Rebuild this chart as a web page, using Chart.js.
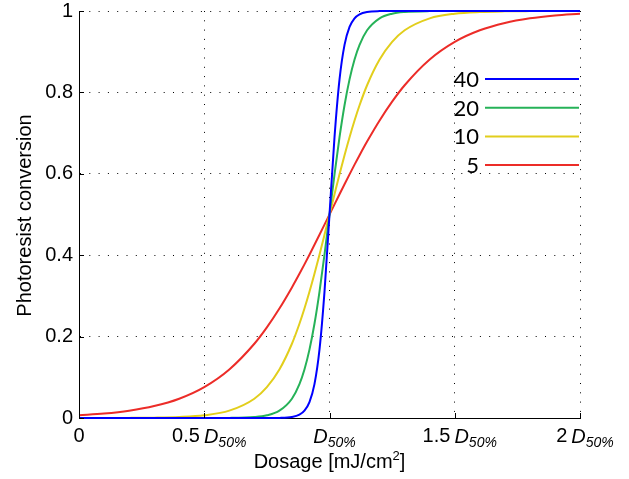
<!DOCTYPE html>
<html>
<head>
<meta charset="utf-8">
<script src="https://cdn.jsdelivr.net/npm/chart.js@4.4.1/dist/chart.umd.min.js"></script>
<style>
  html, body { margin: 0; padding: 0; background: #fff; }
  #wrap { width: 629px; height: 479px; }
</style>
</head>
<body>
<div id="wrap"><canvas id="chart" width="629" height="479"></canvas></div>
<script>
// Dosis in Einheiten von D50%
const dose = [0, 0.1, 0.2, 0.3, 0.4, 0.5, 0.6, 0.7, 0.75, 0.8, 0.85, 0.88, 0.9, 0.92, 0.94, 0.96, 0.98,
  1.0, 1.02, 1.04, 1.06, 1.08, 1.1, 1.12, 1.15, 1.2, 1.25, 1.3, 1.4, 1.5, 1.6, 1.7, 1.8, 1.9, 2.0];

const conv5 = [0.0067, 0.0110, 0.0180, 0.0293, 0.0474, 0.0759, 0.1192, 0.1824, 0.2227, 0.2689, 0.3208, 0.3543,
  0.3775, 0.4013, 0.4256, 0.4502, 0.4750, 0.5000, 0.5250, 0.5498, 0.5744, 0.5987, 0.6225, 0.6457, 0.6792,
  0.7311, 0.7773, 0.8176, 0.8808, 0.9241, 0.9526, 0.9707, 0.9820, 0.9890, 0.9933];
const conv10 = [0.0000, 0.0001, 0.0003, 0.0009, 0.0025, 0.0067, 0.0180, 0.0474, 0.0759, 0.1192, 0.1824, 0.2315,
  0.2689, 0.3100, 0.3543, 0.4013, 0.4502, 0.5000, 0.5498, 0.5987, 0.6457, 0.6900, 0.7311, 0.7685, 0.8176,
  0.8808, 0.9241, 0.9526, 0.9820, 0.9933, 0.9975, 0.9991, 0.9997, 0.9999, 1.0000];
const conv20 = [0.0000, 0.0000, 0.0000, 0.0000, 0.0000, 0.0000, 0.0003, 0.0025, 0.0067, 0.0180, 0.0474, 0.0832,
  0.1192, 0.1680, 0.2315, 0.3100, 0.4013, 0.5000, 0.5987, 0.6900, 0.7685, 0.8320, 0.8808, 0.9168, 0.9526,
  0.9820, 0.9933, 0.9975, 0.9997, 1.0000, 1.0000, 1.0000, 1.0000, 1.0000, 1.0000];
const conv40 = [0.0000, 0.0000, 0.0000, 0.0000, 0.0000, 0.0000, 0.0000, 0.0000, 0.0000, 0.0003, 0.0025, 0.0082,
  0.0180, 0.0392, 0.0832, 0.1680, 0.3100, 0.5000, 0.6900, 0.8320, 0.9168, 0.9608, 0.9820, 0.9918, 0.9975,
  0.9997, 1.0000, 1.0000, 1.0000, 1.0000, 1.0000, 1.0000, 1.0000, 1.0000, 1.0000];

const seriesLabels = ["40", "20", "10", "5"];
const seriesColors = ["rgb(0,0,255)", "rgb(38,178,88)", "rgb(226,206,28)", "rgb(236,44,40)"];

const xTickValues = [0, 0.5, 1, 1.5, 2];
const xTickNumber = ["0", "0.5", "", "1.5", "2"];
const xTickHasD = [false, true, true, true, true];
const yTickValues = [0, 0.2, 0.4, 0.6, 0.8, 1];

const FONT = "'Liberation Sans', Arial, sans-serif";

const toPoints = (ys) => dose.map((x, i) => ({ x: x, y: ys[i] }));
const allSeries = [conv40, conv20, conv10, conv5];

// Achsenbeschriftungen, innere Ticks und Legende selbst zeichnen
const overlay = {
  id: "overlay",
  afterDraw(chart) {
    const { ctx, chartArea: a, scales: { x, y } } = chart;
    ctx.save();

    // Ticks nach innen
    ctx.strokeStyle = "#000";
    ctx.lineWidth = 1;
    ctx.setLineDash([]);
    xTickValues.forEach((v) => {
      const px = Math.round(x.getPixelForValue(v)) + 0.5;
      ctx.beginPath();
      ctx.moveTo(px, a.bottom);
      ctx.lineTo(px, a.bottom - 5);
      ctx.stroke();
    });
    yTickValues.forEach((v) => {
      const py = Math.round(y.getPixelForValue(v)) + 0.5;
      ctx.beginPath();
      ctx.moveTo(a.left, py);
      ctx.lineTo(a.left + 5, py);
      ctx.stroke();
    });

    // x-Ticklabels mit D50%
    ctx.fillStyle = "#000";
    ctx.textBaseline = "alphabetic";
    ctx.textAlign = "left";
    const base = 442;
    xTickValues.forEach((v, i) => {
      const numFont = "20px " + FONT;
      const dFont = "italic 20px " + FONT;
      const subFont = "italic 14px " + FONT;
      const num = xTickNumber[i];
      ctx.font = numFont;
      const wNum = num ? ctx.measureText(num).width : 0;
      const gap = num && xTickHasD[i] ? 4 : 0;
      ctx.font = dFont;
      const wD = xTickHasD[i] ? ctx.measureText("D").width : 0;
      ctx.font = subFont;
      const wSub = xTickHasD[i] ? ctx.measureText("50%").width : 0;
      const w = wNum + gap + wD + wSub;
      let px = x.getPixelForValue(v) - w / 2 + (xTickHasD[i] ? 5 : 0);
      if (num) {
        ctx.font = numFont;
        ctx.fillText(num, px, base);
        px += wNum + gap;
      }
      if (xTickHasD[i]) {
        ctx.font = dFont;
        ctx.fillText("D", px, base + 1);
        px += wD;
        ctx.font = subFont;
        ctx.fillText("50%", px, base + 5);
      }
    });

    // x-Achsentitel
    ctx.font = "20px " + FONT;
    const t1 = "Dosage [mJ/cm";
    const w1 = ctx.measureText(t1).width;
    ctx.font = "13px " + FONT;
    const w2 = ctx.measureText("2").width;
    ctx.font = "20px " + FONT;
    const w3 = ctx.measureText("]").width;
    const tx = (a.left + a.right) / 2 - (w1 + w2 + w3) / 2;
    ctx.fillText(t1, tx, 468);
    ctx.font = "13px " + FONT;
    ctx.fillText("2", tx + w1, 460);
    ctx.font = "20px " + FONT;
    ctx.fillText("]", tx + w1 + w2, 468);

    // y-Achsentitel
    ctx.save();
    ctx.translate(31, (a.top + a.bottom) / 2 + 1);
    ctx.rotate(-Math.PI / 2);
    ctx.textAlign = "center";
    ctx.font = "20px " + FONT;
    ctx.fillText("Photoresist conversion", 0, 0);
    ctx.restore();

    // Legende
    chart.data.datasets.forEach((ds, i) => {
      const ly = 79 + i * 28.7;
      ctx.font = "22px Lato, sans-serif";
      ctx.textAlign = "right";
      ctx.textBaseline = "middle";
      ctx.fillStyle = "#000";
      ctx.fillText(ds.label, 479, ly + 1);
      ctx.strokeStyle = ds.borderColor;
      ctx.lineWidth = 2;
      ctx.beginPath();
      ctx.moveTo(485, ly);
      ctx.lineTo(579, ly);
      ctx.stroke();
    });

    ctx.restore();
  }
};

new Chart(document.getElementById("chart"), {
  type: "line",
  data: {
    datasets: seriesLabels.map((lab, i) => ({
      label: lab,
      data: toPoints(allSeries[i]),
      borderColor: seriesColors[i],
      backgroundColor: seriesColors[i],
      borderWidth: 2,
      pointRadius: 0,
      fill: false,
      cubicInterpolationMode: "monotone",
      clip: false
    }))
  },
  options: {
    responsive: false,
    devicePixelRatio: 1,
    animation: false,
    layout: { padding: { top: 11, right: 49, left: 0, bottom: 0 } },
    plugins: {
      legend: { display: false },
      tooltip: { enabled: false }
    },
    scales: {
      x: {
        type: "linear",
        min: 0,
        max: 2,
        afterBuildTicks: (s) => { s.ticks = xTickValues.map((v) => ({ value: v })); },
        afterFit: (s) => { s.height = 61; s.paddingLeft = 0; s.paddingRight = 0; },
        ticks: { display: false },
        grid: { color: "#000", lineWidth: 1, drawTicks: false },
        border: { display: true, color: "#000", width: 1, dash: [1, 8.3] }
      },
      y: {
        type: "linear",
        min: 0,
        max: 1,
        afterBuildTicks: (s) => { s.ticks = yTickValues.map((v) => ({ value: v })); },
        afterFit: (s) => { s.width = 79; s.paddingTop = 0; s.paddingBottom = 0; },
        ticks: {
          color: "#000",
          padding: 6,
          font: { family: FONT, size: 20 },
          callback: (v) => String(v)
        },
        grid: { color: "#000", lineWidth: 1, drawTicks: false },
        border: { display: true, color: "#000", width: 1, dash: [1, 8.3] }
      }
    }
  },
  plugins: [overlay]
});
</script>
</body>
</html>
